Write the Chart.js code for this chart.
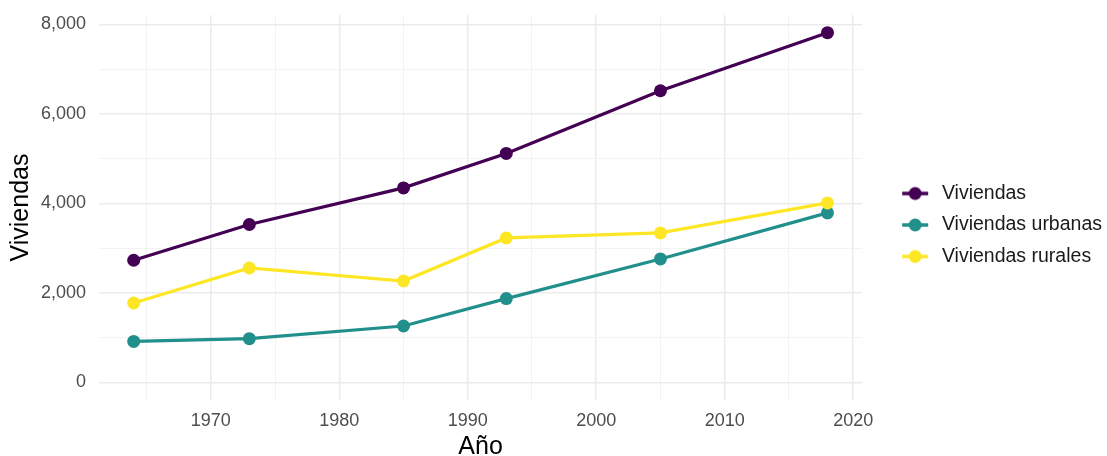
<!DOCTYPE html>
<html>
<head>
    <meta charset="UTF-8">
    <title>Viviendas</title>
    <script src="https://cdn.jsdelivr.net/npm/chart.js@4.4.1/dist/chart.umd.min.js"></script>
    <style>
        body { margin: 0; background: #fff; }
        #wrap { width: 1107px; height: 456px; }
    </style>
</head>
<body>
    <div id="wrap"><canvas id="myChart"></canvas></div>

    <script>
        const anios = [1964, 1973, 1985, 1993, 2005, 2018];
        const viviendas = [2732, 3530, 4349, 5119, 6519, 7817];
        const urbanas = [919, 980, 1262, 1875, 2761, 3790];
        const rurales = [1776, 2559, 2268, 3230, 3342, 4013];
        const nombres = ['Viviendas', 'Viviendas urbanas', 'Viviendas rurales'];
        const colores = ['#440154', '#21908C', '#FDE725'];
        const xTicks = [1965, 1970, 1975, 1980, 1985, 1990, 1995, 2000, 2005, 2010, 2015, 2020];
        const yTicks = [0, 1000, 2000, 3000, 4000, 5000, 6000, 7000, 8000];

        const FONT = 'Liberation Sans, Arial, Helvetica, sans-serif';

        function toPoints(values) {
            return values.map((v, i) => ({ x: anios[i], y: v }));
        }

        // legend key: line with a dot, like ggplot
        function legendKey(color) {
            const c = document.createElement('canvas');
            c.width = 58;
            c.height = 16;
            const g = c.getContext('2d');
            g.strokeStyle = color;
            g.lineWidth = 3.5;
            g.beginPath();
            g.moveTo(28, 8);
            g.lineTo(54, 8);
            g.stroke();
            g.fillStyle = color;
            g.beginPath();
            g.arc(41, 8, 6.5, 0, Math.PI * 2);
            g.fill();
            return c;
        }

        const series = [viviendas, urbanas, rurales];
        const drawOrder = [0, 2, 1];

        const datasets = series.map((values, i) => ({
            label: nombres[i],
            data: toPoints(values),
            borderColor: colores[i],
            backgroundColor: colores[i],
            borderWidth: 3.2,
            pointRadius: 6.5,
            pointBorderWidth: 0,
            pointHoverRadius: 6.5,
            tension: 0,
            order: drawOrder[i]
        }));

        const ctx = document.getElementById('myChart').getContext('2d');
        const myChart = new Chart(ctx, {
            type: 'line',
            data: { datasets: datasets },
            options: {
                responsive: true,
                maintainAspectRatio: false,
                animation: false,
                layout: { padding: { top: 7, right: -5, left: 0, bottom: 13 } },
                plugins: {
                    tooltip: { enabled: false },
                    legend: {
                        position: 'right',
                        labels: {
                            usePointStyle: true,
                            pointStyleWidth: 58,
                            padding: 12,
                            color: '#1a1a1a',
                            font: { family: FONT, size: 19.5 },
                            generateLabels: (chart) => chart.data.datasets.map((ds, i) => ({
                                text: ds.label,
                                pointStyle: legendKey(ds.borderColor),
                                fillStyle: ds.borderColor,
                                strokeStyle: ds.borderColor,
                                lineWidth: 0,
                                fontColor: '#1a1a1a',
                                hidden: false,
                                datasetIndex: i
                            }))
                        }
                    }
                },
                scales: {
                    x: {
                        type: 'linear',
                        min: 1961.3,
                        max: 2020.7,
                        afterBuildTicks: (scale) => {
                            scale.ticks = xTicks.map(v => ({ value: v }));
                        },
                        afterFit: (scale) => { scale.height = 43; },
                        border: { display: false },
                        grid: {
                            drawTicks: false,
                            color: (c) => c.tick && c.tick.value % 10 === 0 ? '#EBEBEB' : '#F2F2F2',
                            lineWidth: (c) => c.tick && c.tick.value % 10 === 0 ? 1.5 : 0.9
                        },
                        ticks: {
                            padding: 10,
                            color: '#4D4D4D',
                            font: { family: FONT, size: 18 },
                            maxRotation: 0,
                            autoSkip: false,
                            callback: (v) => v % 10 === 0 ? String(v) : ''
                        },
                        title: {
                            display: true,
                            text: 'Año',
                            color: '#000',
                            font: { family: FONT, size: 25, lineHeight: 1 },
                            padding: { top: 0, bottom: -17 }
                        }
                    },
                    y: {
                        min: -391,
                        max: 8212,
                        afterBuildTicks: (scale) => {
                            scale.ticks = yTicks.map(v => ({ value: v }));
                        },
                        afterFit: (scale) => {
                            scale.width = 99;
                            scale.paddingTop = 15;
                            scale.paddingBottom = 0;
                        },
                        border: { display: false },
                        grid: {
                            drawTicks: false,
                            color: (c) => c.tick && c.tick.value % 2000 === 0 ? '#EBEBEB' : '#F2F2F2',
                            lineWidth: (c) => c.tick && c.tick.value % 2000 === 0 ? 1.5 : 0.9
                        },
                        ticks: {
                            padding: 13,
                            color: '#4D4D4D',
                            font: { family: FONT, size: 18 },
                            autoSkip: false,
                            callback: (v) => v % 2000 === 0 ? v.toLocaleString('en-US') : ''
                        },
                        title: {
                            display: true,
                            text: 'Viviendas',
                            color: '#000',
                            font: { family: FONT, size: 25, lineHeight: 1 },
                            padding: { top: 9, bottom: 0 }
                        }
                    }
                }
            }
        });
    </script>
</body>
</html>
